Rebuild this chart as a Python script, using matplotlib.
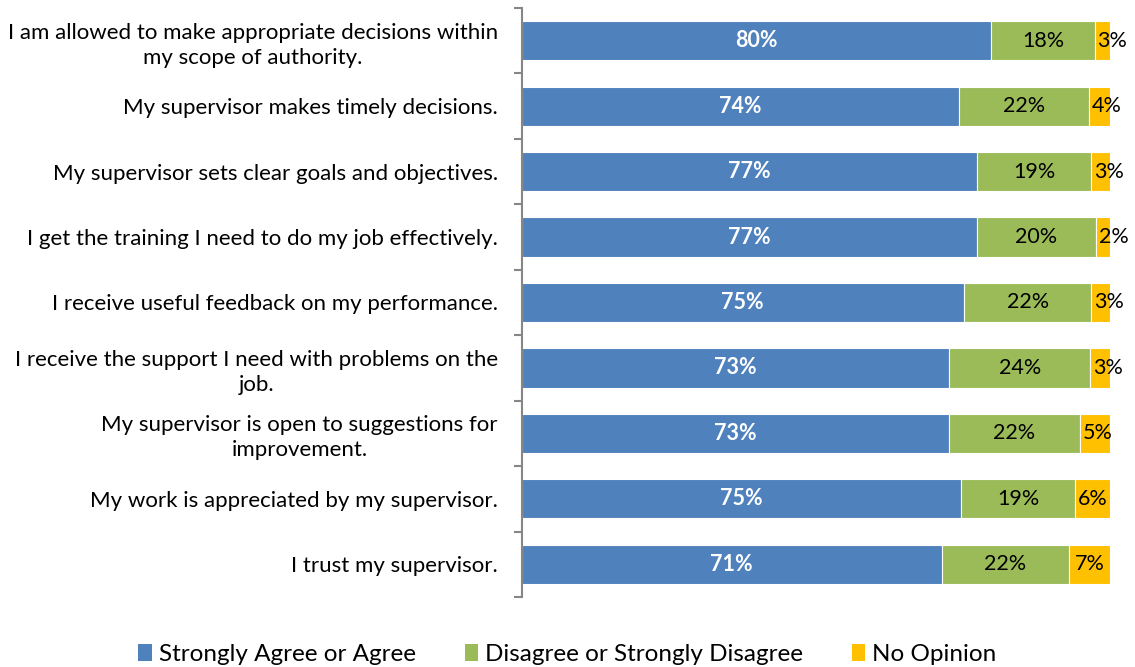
import matplotlib
matplotlib.use('Agg')
import matplotlib.pyplot as plt
from matplotlib.patches import Patch
import numpy as np

plt.rcParams['font.family'] = ['Lato', 'DejaVu Sans']

statements = [
    'I am allowed to make appropriate decisions within\nmy scope of authority.',
    'My supervisor makes timely decisions.',
    'My supervisor sets clear goals and objectives.',
    'I get the training I need to do my job effectively.',
    'I receive useful feedback on my performance.',
    'I receive the support I need with problems on the\njob.',
    'My supervisor is open to suggestions for\nimprovement.',
    'My work is appreciated by my supervisor.',
    'I trust my supervisor.',
]
agree = [79.8, 74.3, 77.4, 77.4, 75.2, 72.7, 72.6, 74.7, 71.4]
disagree = [17.6, 22.1, 19.4, 20.2, 21.6, 23.9, 22.3, 19.4, 21.6]
no_opinion = [2.6, 3.6, 3.2, 2.4, 3.2, 3.4, 5.1, 5.9, 7.0]
series_names = ['Strongly Agree or Agree', 'Disagree or Strongly Disagree', 'No Opinion']
colors = ['#4F81BD', '#9BBB59', '#FFC000']

fig = plt.figure(figsize=(11.35, 6.67), dpi=100)
ax = fig.add_axes([0.4595, 0.105, 0.5185, 0.883])

y = np.arange(len(statements))
a = np.array(agree)
d = np.array(disagree)
n = np.array(no_opinion)

ax.barh(y, a, height=0.6, color=colors[0], edgecolor='white', linewidth=0.8)
ax.barh(y, d, left=a, height=0.6, color=colors[1], edgecolor='white', linewidth=0.8)
ax.barh(y, n, left=a + d, height=0.6, color=colors[2], edgecolor='white', linewidth=0.8)

fs = 15.5
for i in range(len(statements)):
    ax.text(a[i] / 2, y[i], '%d%%' % round(a[i]), ha='center', va='center',
            color='white', fontweight='bold', fontsize=fs)
    ax.text(a[i] + d[i] / 2, y[i], '%d%%' % round(d[i]), ha='center', va='center',
            color='black', fontsize=fs)
    # narrow segments: keep the label starting just inside the segment
    xpos = max(a[i] + d[i] + n[i] / 2, a[i] + d[i] + 3.0)
    ax.text(xpos, y[i], '%d%%' % round(n[i]), ha='center', va='center',
            color='black', fontsize=fs)

ax.set_xlim(0, 100)
ax.set_ylim(len(statements) - 0.5, -0.5)
ax.set_xticks([])
ax.set_yticks(y)
ax.set_yticklabels(statements, fontsize=16, multialignment='center', linespacing=1.3)
ax.tick_params(axis='y', which='major', length=0, pad=17)
ax.set_yticks(np.arange(len(statements) + 1) - 0.5, minor=True)
ax.tick_params(axis='y', which='minor', length=6, width=1.5, color='#868686')

for side in ['top', 'right', 'bottom']:
    ax.spines[side].set_visible(False)
ax.spines['left'].set_color('#868686')
ax.spines['left'].set_linewidth(1.5)

handles = [Patch(facecolor=c, edgecolor='none') for c in colors]
fig.legend(handles, series_names, loc='lower center', bbox_to_anchor=(0.5, -0.03),
           ncol=3, frameon=False, fontsize=17.5, handlelength=0.55, handleheight=0.7,
           handletextpad=0.3, columnspacing=2.0)

fig.savefig('out.png', dpi=100)
